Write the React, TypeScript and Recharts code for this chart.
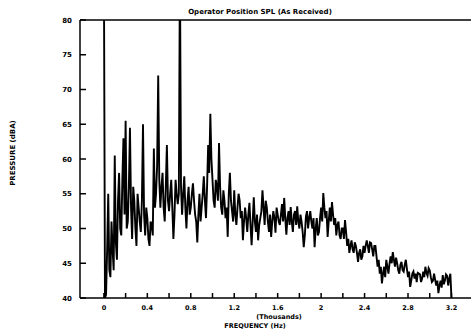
import React from 'react';
import { LineChart, Line, XAxis, YAxis, ReferenceLine, Label } from 'recharts';

const TITLE = 'Operator Position SPL (As Received)';
const Y_TITLE = 'PRESSURE (dBA)';
const X_UNITS = '(Thousands)';
const X_TITLE = 'FREQUENCY (Hz)';

const FREQ_STEP_KHZ = 0.01;
const PRESSURE_DBA = [
  88, 40, 40.5, 47, 55, 44, 43, 51, 47, 44, 60.5, 48, 45.5, 54, 58, 50, 49, 57, 63, 52,
  65.5, 50, 51, 56, 64.5, 53, 48.5, 56, 54, 50, 47.5, 55, 53, 51, 49.5, 54, 65, 52, 49, 53,
  51.5, 48.5, 47.5, 51, 50.5, 49, 61.5, 53, 55, 59, 72, 57, 53, 56, 58, 53, 51, 56, 62, 54,
  52.5, 55, 57, 53, 48.5, 52, 57, 55, 53.5, 55, 88, 56, 52, 55, 57.5, 53, 50, 54, 56, 52,
  53, 55, 56.5, 54, 52, 51, 48, 52, 55, 51, 53, 55, 57.5, 54, 51.5, 56, 62, 58, 66.5, 60,
  57, 54, 53, 57, 56, 54, 62.3, 56, 53, 52, 55.5, 54, 51.5, 53, 48.8, 55, 58, 54, 52.5, 51,
  55.5, 52, 50.5, 53, 55, 54, 51.5, 52.5, 48.3, 51, 53, 51.5, 49.5, 52, 53.7, 50.5, 47.6, 51, 54.5, 51,
  49.5, 52, 48.3, 50.5, 51.5, 52.5, 55.5, 53, 50.5, 54, 53, 51, 49.5, 52, 48.8, 51, 52.5, 51.5, 49.4, 53,
  52, 51, 50.5, 52, 53.5, 51, 54.4, 51.5, 49.1, 51.5, 52.5, 50.5, 53.1, 51, 49.5, 52, 52.5, 50.5, 53.2, 51,
  50, 52, 51, 49.5, 47.3, 49, 51.7, 52.5, 50, 51.5, 52.5, 51, 50, 51.5, 47.3, 50, 51.5, 49, 49.5, 51.5,
  53, 51, 55.1, 53, 51.5, 52.5, 48.8, 51, 53, 51, 53.8, 52, 50.5, 51.5, 49, 50.5, 51, 49, 48.5, 50,
  50, 48.5, 51.2, 49.5, 47.5, 48.5, 46.5, 47.5, 48.3, 47, 46.5, 48, 47.5, 46.5, 45.2, 46.5, 47, 45.5, 46, 47.5,
  46.5, 47.5, 48.3, 47.5, 46.5, 48, 47.9, 47, 46, 47.5, 47.5, 46, 44.5, 45.5, 43.5, 44.5, 42.1, 43.5, 44.5, 43,
  45.5, 44.5, 43.5, 45, 46, 45, 46.6, 45.5, 44.5, 45.8, 45, 44, 43.5, 44.8, 45.2, 44, 43.8, 44.8, 45.5, 44.2,
  43, 43.8, 41.6, 42.5, 43.5, 43.8, 42.8, 43.5, 42.3, 43.6, 43.5, 43.4, 42.3, 42.8, 43.8, 43, 44.5, 43.6, 43.2, 44.3,
  44, 43, 42.3, 42.5, 43.5, 42.6, 41.8, 42.5, 40.7, 41.8, 42.5, 41.5, 43.3, 42, 42.5, 43.4, 43.2, 41.8, 42.8, 43.5,
  40,
];

const X_TICKS = [0, 0.2, 0.4, 0.6, 0.8, 1.0, 1.2, 1.4, 1.6, 1.8, 2.0, 2.2, 2.4, 2.6, 2.8, 3.0, 3.2];
const X_TICK_LABELS = ['0', '', '0.4', '', '0.8', '', '1.2', '', '1.6', '', '2', '', '2.4', '', '2.8', '', '3.2'];
const Y_TICKS = [40, 45, 50, 55, 60, 65, 70, 75, 80];

const data = PRESSURE_DBA.map((p, i) => ({ f: Math.round(i * FREQ_STEP_KHZ * 100) / 100, p }));

const FONT = '"DejaVu Sans", sans-serif';

const XTick = (props: any) => {
  const { x, y, index } = props;
  const label = X_TICK_LABELS[index] ?? '';
  return (
    <g>
      <line x1={x} y1={y} x2={x} y2={y - 5} stroke="#000" strokeWidth={1.5} />
      {label && (
        <text x={x} y={y + 12} textAnchor="middle" fontFamily={FONT} fontSize={6.5} fontWeight="bold" fill="#000">
          {label}
        </text>
      )}
    </g>
  );
};

const YTick = (props: any) => {
  const { x, y, payload } = props;
  return (
    <g>
      <line x1={x} y1={y} x2={x + 6} y2={y} stroke="#000" strokeWidth={1.5} />
      <text x={x - 8} y={y + 2.5} textAnchor="end" fontFamily={FONT} fontSize={7} fontWeight="bold" fill="#000">
        {payload.value}
      </text>
    </g>
  );
};

export default function App() {
  return (
    <div style={{ position: 'absolute', left: 0, top: 0, width: 471, height: 333, background: '#fff' }}>
      <LineChart width={471} height={333} data={data} margin={{ top: 20, right: 0, bottom: 0, left: 0 }}>
        <XAxis
          dataKey="f"
          type="number"
          domain={[-0.22, 3.38]}
          ticks={X_TICKS}
          interval={0}
          allowDataOverflow
          height={35}
          tickSize={0}
          tickMargin={0}
          tick={<XTick />}
          axisLine={{ stroke: '#000', strokeWidth: 1.5 }}
          tickLine={false}
        >
          <Label
            content={() => (
              <g>
                <text x={279} y={319} textAnchor="middle" fontFamily={FONT} fontSize={6.5} fontWeight="bold" fill="#000">
                  {X_UNITS}
                </text>
                <text x={255} y={328} textAnchor="middle" fontFamily={FONT} fontSize={6.5} fontWeight="bold" fill="#000">
                  {X_TITLE}
                </text>
              </g>
            )}
          />
        </XAxis>
        <YAxis
          type="number"
          domain={[40, 80]}
          ticks={Y_TICKS}
          interval={0}
          allowDataOverflow
          width={80}
          tickSize={0}
          tickMargin={0}
          tick={<YTick />}
          axisLine={{ stroke: '#000', strokeWidth: 1.5 }}
          tickLine={false}
        >
          <Label
            content={() => (
              <text
                x={15}
                y={153}
                transform="rotate(-90 15 153)"
                textAnchor="middle"
                fontFamily={FONT}
                fontSize={7}
                fontWeight="bold"
                fill="#000"
              >
                {Y_TITLE}
              </text>
            )}
          />
        </YAxis>
        <ReferenceLine
          y={80}
          stroke="#000"
          strokeWidth={1.5}
          label={
            <Label
              content={() => (
                <text x={260} y={14} textAnchor="middle" fontFamily={FONT} fontSize={7} fontWeight="bold" fill="#000">
                  {TITLE}
                </text>
              )}
            />
          }
        />
        <Line
          type="linear"
          dataKey="p"
          stroke="#000"
          strokeWidth={1.9}
          dot={false}
          isAnimationActive={false}
        />
      </LineChart>
    </div>
  );
}
